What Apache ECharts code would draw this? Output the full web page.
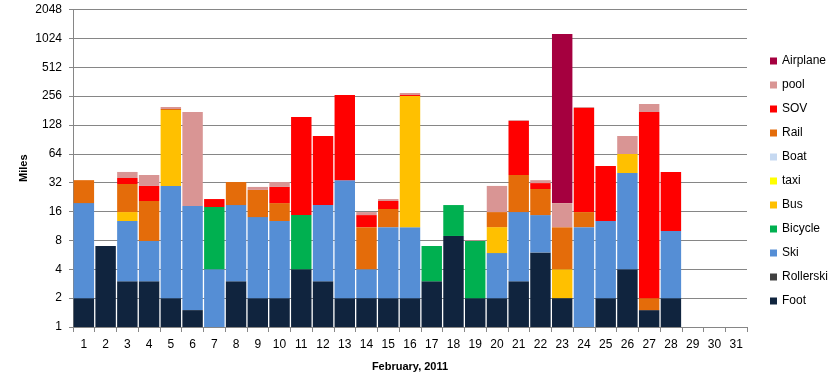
<!DOCTYPE html>
<html><head><meta charset="utf-8">
<script src="https://cdn.jsdelivr.net/npm/echarts@6/dist/echarts.min.js"></script>
<style>html,body{margin:0;padding:0;background:#fff}#c{width:835px;height:381px}</style>
</head><body><div id="c"></div>
<script>
const days = Array.from({length:31},(_,i)=>String(i+1));
const n = null;
// 0.0001 = no foot travel that day (kept > 0 so the log-axis stack has a start)
const foot     = [2,7,3,3,2,1.5,0.0001,3,2,2,4,3,2,2,2,2,3,8.9,2,2,3,6,2,0.0001,2,4,1.5,2,n,n,n];
const rollerski= [n,n,n,n,n,n,n,n,n,n,n,n,n,n,n,n,n,n,n,n,n,n,n,n,n,n,n,n,n,n,n];
const ski      = [17.6,n,9.75,4.9,27.6,16.8,4,15.7,12,10.75,n,15.7,32,2,9,9,n,n,n,3.9,12.8,8.7,n,11,10.75,36.4,n,8,n,n,n];
const bicycle  = [n,n,n,n,n,n,13.85,n,n,n,10.7,n,n,n,n,n,4,9.8,5.9,n,n,n,n,n,n,n,n,n,n,n,n];
const bus      = [n,n,3.05,n,153.8,n,n,n,n,n,n,n,n,n,n,245.7,n,n,n,5.1,n,n,2,n,n,23.3,n,n,n,n,n];
const taxi     = [n,n,n,n,n,n,n,n,n,n,n,n,n,n,n,n,n,n,n,n,n,n,n,n,n,n,n,n,n,n,n];
const boat     = [n,n,n,n,n,n,n,n,n,n,n,n,n,n,n,n,n,n,n,n,n,n,n,n,n,n,n,n,n,n,n];
const rail     = [14.4,n,15.2,12.7,4.4,n,n,13.8,12.9,6.85,n,n,n,7,6,n,n,n,n,4.8,22.7,12.8,7,4.8,n,n,0.5,n,n,n,n];
const sov      = [n,n,4.8,9,n,n,3.75,n,n,9.3,140,79.5,229,3.7,3.6,6,n,n,n,n,102.4,4.2,n,176.7,35,n,172.8,31.4,n,n,n];
const pool     = [n,n,5.6,8.9,9.2,156.5,n,n,2,3.6,n,n,n,1.1,1,13,n,n,0.1,13.8,3,2.3,8.6,4.5,n,34.5,37,n,n,n,n];
const airplane = [n,n,n,n,n,n,n,n,n,n,n,n,n,n,n,n,n,n,n,n,n,n,1118,n,n,n,n,n,n,n,n];

const stackOrder = [
  ['Foot', foot, '#10243E'],
  ['Rollerski', rollerski, '#404040'],
  ['Ski', ski, '#558ED5'],
  ['Bicycle', bicycle, '#00B050'],
  ['Bus', bus, '#FFC000'],
  ['taxi', taxi, '#FFFF00'],
  ['Boat', boat, '#C6D9F1'],
  ['Rail', rail, '#E46C0A'],
  ['SOV', sov, '#FF0000'],
  ['pool', pool, '#D99594'],
  ['Airplane', airplane, '#A5003F']
];
const font = 'Liberation Sans, Arial, sans-serif';
const chart = echarts.init(document.getElementById('c'), null, {renderer:'canvas'});
chart.setOption({
  animation:false,
  textStyle:{fontFamily:font},
  grid:{left:73, right:88, top:9.5, bottom:54},
  legend:{
    orient:'vertical', left:765, top:49,
    data: stackOrder.map(s=>s[0]).slice().reverse(),
    icon:'rect', itemWidth:7, itemHeight:7, itemGap:10,
    textStyle:{fontSize:12, color:'#000', fontFamily:font, lineHeight:14, height:14}
  },
  xAxis:{
    type:'category', data:days,
    name:'February, 2011', nameLocation:'middle', nameGap:34, nameMoveOverlap:false,
    nameTextStyle:{fontWeight:'bold', fontSize:11, color:'#000'},
    axisLine:{lineStyle:{color:'#868686'}},
    axisTick:{show:true, length:5, lineStyle:{color:'#868686'}},
    axisLabel:{color:'#000', fontSize:12, margin:12}
  },
  yAxis:{
    type:'log', logBase:2, min:1, max:2048, interval:1,
    name:'Miles', nameLocation:'middle', nameGap:44, nameRotate:90, nameMoveOverlap:false,
    nameTextStyle:{fontWeight:'bold', fontSize:11, color:'#000'},
    axisLine:{show:true, lineStyle:{color:'#868686'}},
    axisTick:{show:true, length:4, lineStyle:{color:'#868686'}},
    splitLine:{lineStyle:{color:'#868686'}},
    axisLabel:{color:'#000', fontSize:12, margin:11, formatter:(v)=>String(Math.round(v))}
  },
  series: stackOrder.map(([name,data,color])=>({
    name, type:'bar', stack:'m', data, barCategoryGap:'6%', clip:true,
    itemStyle:{color}
  }))
});
</script></body></html>
